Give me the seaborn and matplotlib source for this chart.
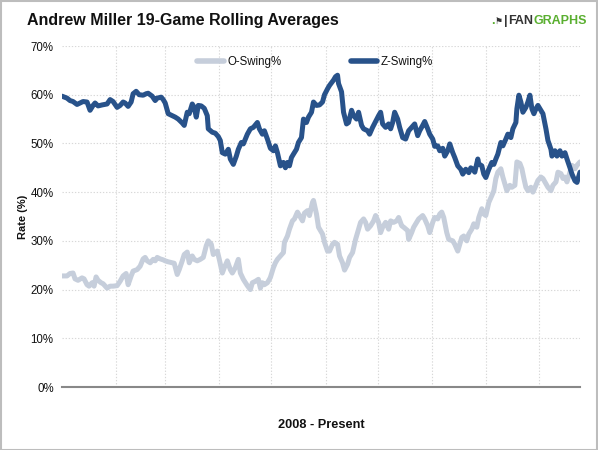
import matplotlib
matplotlib.use("Agg")
import matplotlib.pyplot as plt
import seaborn as sns
import pandas as pd
from matplotlib.lines import Line2D
from matplotlib.patches import Rectangle

# ---------------- data ----------------
z_games = [0, 5, 8, 11, 15, 18, 21, 25, 28, 31, 33, 36, 40, 45, 48, 51, 55, 58, 61, 63, 66, 69, 71, 74, 77,
           81, 84, 86, 90, 93, 95, 99, 101,
           103, 106, 110, 113, 116, 120, 122, 125, 127, 130, 132, 134, 136, 139, 142, 145, 146, 150, 153,
           156, 158, 160, 163, 166, 168, 171, 174, 176, 179, 181, 185, 188, 191, 195, 197, 200, 202, 205,
           208, 211, 213, 215, 218, 221, 223, 225, 227, 229, 231, 234, 236, 239, 241, 244, 246, 249, 251,
           254, 257, 260, 262, 265, 267, 271, 273, 275, 276, 279, 281, 284, 286, 289, 291, 294, 296, 299,
           301, 305, 307, 310,
           313, 316, 318, 320, 323, 326, 328, 330, 332, 335, 337, 340, 343, 346, 349, 352, 355, 357, 360,
           362, 365, 367, 370, 372, 375, 377, 380, 382, 385, 387, 390, 392, 395, 398, 400, 403, 406, 408,
           410, 412, 415,
           416, 419, 421, 423, 426, 429, 431, 433, 435, 438, 440, 443, 445, 448, 450, 453, 454, 456, 458,
           460, 463, 465, 467, 469, 471, 473, 475, 478, 480, 483, 485, 488, 489, 492, 494, 497, 499, 502,
           504, 507, 509, 512, 514, 517]
z_swing = [59.7, 59.3, 58.8, 58.6, 58.0, 58.3, 58.6, 58.5, 56.8, 57.8, 58.3, 57.7, 57.9, 58.1, 59.0, 58.6,
           57.4, 57.8, 58.5, 58.3, 57.6, 58.5, 60.2, 60.7, 60.0, 59.9, 60.2, 60.3, 59.7, 58.8, 59.3, 59.5,
           59.0,
           58.3, 56.1, 55.7, 55.4, 55.0, 54.2, 53.7, 56.4, 56.1, 58.1, 57.4, 55.4, 57.8, 57.7, 57.2, 55.7,
           53.0, 52.3, 52.1, 51.4, 50.6, 48.1, 47.8, 48.8, 46.8, 45.7, 47.4, 48.8, 50.2, 49.9, 51.9, 53.0,
           53.3, 54.3, 53.0, 51.9, 52.6, 50.9,
           49.0, 48.5, 49.5, 48.1, 45.4, 46.1, 45.0, 46.1, 45.4, 47.1, 47.8, 48.8, 50.2, 51.2, 55.0, 54.3,
           55.4, 56.4, 58.5, 57.8, 57.9, 58.5, 60.0, 61.2, 61.9, 63.0, 63.7, 64.0, 62.3, 60.6, 56.4, 54.0,
           54.3, 56.8, 55.7, 55.0, 56.4, 53.7, 53.0, 52.6, 51.9, 53.3,
           54.5, 55.7, 56.4, 54.0, 53.3, 54.0, 53.0, 54.3, 56.4, 55.0, 53.3, 51.2, 50.9, 52.6, 53.3, 54.0,
           51.6, 52.6, 53.7, 54.5, 53.0, 51.9, 50.9, 49.4, 49.5, 48.5, 49.0, 47.4, 48.5, 49.9, 48.1, 47.1,
           45.4, 44.7, 43.7, 44.7, 44.0, 45.0, 44.7, 44.1, 46.8,
           45.8, 45.4, 43.7, 43.0, 44.7, 46.1, 45.7, 46.8, 47.8, 50.2, 49.5, 50.9, 51.9, 51.2, 53.0, 54.3,
           57.1, 59.9, 58.5, 56.4, 57.4, 58.5, 59.9, 57.1, 56.1, 57.1, 57.8, 56.8, 56.1, 53.0, 50.6, 48.8,
           47.4, 48.5, 47.4, 48.5, 47.4, 48.1, 46.8, 45.0, 43.7, 42.3, 42.0, 44.1]

o_games = [0, 5, 8, 11, 13, 16, 20, 22, 25, 27, 30, 32, 34, 36, 39, 41, 45, 48, 51, 55, 58, 61, 64, 66, 69,
           71, 75, 78, 81, 83, 85, 88, 91, 93, 95, 98, 101,
           103, 106, 110, 112, 115, 117, 120, 122, 125, 127, 130, 132, 135, 138, 141, 144, 146, 149, 151,
           155, 157, 160, 162, 165, 168, 170, 173, 176, 178, 181, 185, 188, 190, 193, 196, 198, 200, 202,
           205, 207,
           208, 211, 213, 215, 218, 221, 222, 225, 227, 230, 232, 235, 237, 240, 242, 245, 247, 250, 251,
           254, 256, 260, 262, 265, 267, 270, 272, 275, 277, 280, 282, 285, 287, 290, 293, 295, 298, 301,
           303, 305, 308, 311,
           313, 316, 318, 320, 323, 326, 328, 331, 334, 336, 339, 341, 345, 346, 349, 351, 354, 356, 360,
           362, 365, 367, 370, 372, 375, 377, 379, 381, 384, 386, 390, 392, 395, 396, 399, 401, 404, 406,
           409, 411, 414,
           416, 419, 421, 423, 426, 429, 431, 433, 435, 438, 440, 442, 444, 447, 449, 452, 454, 457, 459,
           461, 463, 465, 468, 470, 473, 475, 478, 480, 483, 485, 488, 490, 493, 495, 498, 500, 502, 504,
           507, 509, 512, 514, 517]
o_swing = [22.8, 22.8, 23.3, 23.4, 22.2, 21.9, 22.4, 22.2, 21.0, 20.7, 21.4, 20.7, 22.6, 21.9, 21.4, 21.2,
           20.3, 20.7, 20.7, 20.8, 21.7, 22.8, 23.3, 21.0, 22.8, 23.8, 24.1, 24.8, 26.3, 26.6, 25.9, 25.5,
           26.2, 25.9, 26.6, 26.3, 26.1,
           25.9, 25.7, 25.5, 25.4, 23.1, 24.1, 25.9, 27.2, 27.7, 25.5, 26.9, 26.2, 25.9, 26.2, 26.6, 29.0,
           30.0, 29.3, 27.2, 27.9, 26.2, 23.4, 24.5, 25.9, 24.1, 23.4, 24.5, 26.2, 23.4, 22.1, 20.8, 20.0,
           21.4, 21.7, 22.1, 20.3, 21.4, 21.0, 21.4, 22.1,
           22.5, 24.5, 25.5, 26.2, 26.9, 27.6, 29.7, 31.0, 32.4, 34.1, 34.5, 35.9, 35.2, 34.1, 35.7, 36.2,
           35.2, 37.9, 38.3, 35.5, 32.8, 31.4, 29.7, 27.9, 27.9, 29.3, 29.7, 29.3, 26.9, 25.5, 24.0, 25.2,
           26.6, 27.6, 30.3, 31.7, 33.8, 34.5, 33.8, 32.4, 33.1, 34.1,
           35.2, 33.8, 31.7, 32.8, 33.8, 32.4, 34.1, 33.8, 34.1, 34.8, 33.1, 32.8, 32.1, 30.3, 31.7, 32.8,
           33.8, 34.5, 35.2, 34.5, 33.1, 31.7, 33.8, 34.8, 34.5, 35.5, 35.9, 34.8, 31.7, 30.3, 30.0, 29.3,
           27.9, 28.6, 30.7, 31.0, 30.0, 31.4, 32.4, 33.5, 32.8,
           34.8, 36.6, 35.5, 35.2, 37.9, 39.3, 40.3, 42.8, 44.1, 44.8, 43.1, 41.7, 40.3, 41.4, 41.0, 41.4,
           46.2, 45.9, 44.8, 42.8, 41.0, 40.3, 41.0, 40.0, 41.4, 42.4, 43.1, 42.8, 41.7, 41.0, 40.3, 41.4,
           42.1, 44.1, 43.8, 42.8, 43.1, 42.1, 44.1, 45.5, 44.8, 45.5, 46.2]

season_breaks = [54, 103, 157, 209, 263, 315, 369, 423, 476]
y_ticks = [0, 10, 20, 30, 40, 50, 60, 70]
series_names = ["O-Swing%", "Z-Swing%"]
colors = {"O-Swing%": "#c6cedb", "Z-Swing%": "#28528a"}

df = pd.concat([
    pd.DataFrame({"game": o_games, "rate": o_swing, "metric": series_names[0]}),
    pd.DataFrame({"game": z_games, "rate": z_swing, "metric": series_names[1]}),
], ignore_index=True)

# ---------------- plot ----------------
sns.set_theme(style="white")
plt.rcParams["font.family"] = ["Liberation Sans", "DejaVu Sans"]

fig = plt.figure(figsize=(5.98, 4.5), dpi=100)
fig.patch.set_facecolor("white")
ax = fig.add_axes([62 / 598, 63 / 450, 518 / 598, 341 / 450])

sns.lineplot(data=df, x="game", y="rate", hue="metric", palette=colors,
             hue_order=series_names, estimator=None, sort=True, linewidth=3.6,
             legend=False, ax=ax)
for ln in ax.lines:
    ln.set_solid_capstyle("round")
    ln.set_solid_joinstyle("round")

ax.set_xlim(0, 517)
ax.set_ylim(0, 70)
ax.set_yticks(y_ticks)
ax.set_yticklabels([f"{v}%" for v in y_ticks])
ax.set_xticks(season_breaks)
ax.set_xticklabels([])
ax.tick_params(axis="both", length=0, labelsize=8.3, colors="#111111", pad=6)
ax.grid(True, axis="both", color="#d8d8d8", linestyle=(0, (1.2, 1.6)), linewidth=0.8)
ax.set_axisbelow(True)
for s in ["top", "right", "left"]:
    ax.spines[s].set_visible(False)
ax.spines["bottom"].set_color("#888888")
ax.spines["bottom"].set_linewidth(1.5)

ax.set_ylabel("Rate (%)", fontsize=8, fontweight="bold", color="#111111", labelpad=1.5)
ax.set_xlabel("2008 - Present", fontsize=9.2, fontweight="bold", color="#111111", labelpad=17)

handles = [Line2D([0], [0], color=colors[n], lw=4, solid_capstyle="round") for n in series_names]
ax.legend(handles, series_names, loc="center", bbox_to_anchor=((315 - 62) / 518, 0.953),
          ncol=2, frameon=False, fontsize=8.3, handlelength=2.3, handletextpad=0.3,
          columnspacing=6.0, labelcolor="#111111")

fig.text(27 / 598, 1 - 21 / 450, "Andrew Miller 19-Game Rolling Averages", fontsize=11.5,
         fontweight="bold", color="#111111", va="center", ha="left")

# FanGraphs wordmark, pieces placed one after another
renderer = fig.canvas.get_renderer()
logo_y = 1 - 21 / 450
pieces = [(".", "#5aaf30", 9.0, "bold", ["Liberation Sans"]),
          ("\u2691", "#333333", 6.5, "normal", ["DejaVu Sans"]),
          ("|", "#333333", 9.0, "bold", ["Liberation Sans"]),
          ("FAN", "#333333", 9.0, "bold", ["Liberation Sans"]),
          ("GRAPHS", "#5aaf30", 9.0, "bold", ["Liberation Sans"])]
x_px = 491
for txt, col, fs, fw, fam in pieces:
    t = fig.text(x_px / 598, logo_y, txt, fontsize=fs, fontweight=fw, color=col,
                 va="center", ha="left", family=fam)
    bb = t.get_window_extent(renderer=renderer)
    x_px = bb.x1 + 0.5

fig.add_artist(Rectangle((0.5 / 598, 0.5 / 450), 1 - 1.5 / 598, 1 - 1.5 / 450,
                         transform=fig.transFigure, fill=False, edgecolor="#bdbdbd", linewidth=1.5))

fig.savefig("out.png", dpi=100, facecolor="white")
